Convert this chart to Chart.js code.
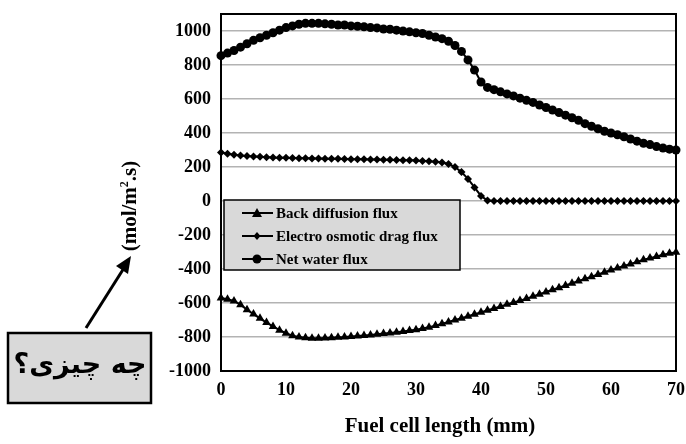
<!DOCTYPE html>
<html>
<head>
<meta charset="utf-8">
<script src="https://cdn.jsdelivr.net/npm/chart.js@4/dist/chart.umd.min.js"></script>
<style>
  html, body { margin: 0; padding: 0; background: #fff; }
  #wrap { width: 686px; height: 444px; position: relative; }
</style>
</head>
<body>
<div id="wrap"><canvas id="myChart" width="686" height="444"></canvas></div>
<script>
// fuel cell length (mm)
var lengthMm = [0, 1, 2, 3, 4, 5, 6, 7, 8, 9, 10, 11, 12, 13, 14, 15, 16, 17, 18, 19, 20,
    21, 22, 23, 24, 25, 26, 27, 28, 29, 30, 31, 32, 33, 34, 35, 36, 37, 38, 39, 40,
    41, 42, 43, 44, 45, 46, 47, 48, 49, 50, 51, 52, 53, 54, 55, 56, 57, 58, 59, 60,
    61, 62, 63, 64, 65, 66, 67, 68, 69, 70];

var backDiffusion = [-570, -578, -588, -610, -640, -665, -690, -715, -738, -760, -778,
    -792, -800, -805, -808, -808, -806, -804, -802, -800, -797,
    -794, -791, -788, -784, -780, -776, -772, -767, -762, -757,
    -750, -742, -733, -722, -712, -700, -690, -678, -666, -655,
    -643, -632, -620, -608, -597, -586, -574, -561, -548, -535,
    -522, -510, -497, -484, -471, -458, -445, -432, -419, -406,
    -394, -382, -370, -358, -346, -336, -326, -316, -308, -302];

var osmoticDrag = [285, 278, 272, 268, 264, 262, 260, 258, 256, 255, 254,
    253, 252, 251, 250, 250, 249, 248, 248, 247, 246,
    246, 245, 244, 244, 243, 242, 241, 240, 239, 238,
    236, 234, 231, 226, 218, 200, 170, 130, 80, 30,
    3, 0, 0, 0, 0, 0, 0, 0, 0, 0,
    0, 0, 0, 0, 0, 0, 0, 0, 0, 0,
    0, 0, 0, 0, 0, 0, 0, 0, 0, 0];

var netWater = [855, 870, 885, 905, 925, 945, 960, 975, 990, 1005, 1020,
    1030, 1040, 1045, 1045, 1045, 1042, 1040, 1035, 1035, 1030,
    1028, 1025, 1020, 1018, 1012, 1010, 1005, 1000, 995, 990,
    985, 975, 965, 955, 940, 915, 880, 830, 770, 700,
    668, 655, 642, 630, 618, 605, 592, 580, 565, 550,
    535, 520, 505, 490, 475, 455, 440, 425, 410, 400,
    390, 378, 365, 352, 340, 332, 320, 312, 305, 300];

var seriesNames = ['Back diffusion flux', 'Electro osmotic drag flux', 'Net water flux'];
var yTicks = [-1000, -800, -600, -400, -200, 0, 200, 400, 600, 800, 1000];
var xTitle = 'Fuel cell length (mm)';
var noteText = 'چه چیزی؟';

function toPoints(ys) {
    return ys.map(function (v, i) { return { x: lengthMm[i], y: v }; });
}

var serif = '"Liberation Serif", "Times New Roman", serif';

function marker(ctx, style, x, y) {
    ctx.fillStyle = '#000';
    ctx.beginPath();
    if (style === 'triangle') {
        ctx.moveTo(x, y - 5);
        ctx.lineTo(x + 5, y + 4);
        ctx.lineTo(x - 5, y + 4);
    } else if (style === 'rectRot') {
        ctx.moveTo(x, y - 4);
        ctx.lineTo(x + 3.5, y);
        ctx.lineTo(x, y + 4);
        ctx.lineTo(x - 3.5, y);
    } else {
        ctx.arc(x, y, 4.5, 0, Math.PI * 2);
    }
    ctx.closePath();
    ctx.fill();
}

var extras = {
    id: 'extras',
    afterDraw: function (chart) {
        var ctx = chart.ctx;
        var a = chart.chartArea;
        ctx.save();

        // frame top and right
        ctx.strokeStyle = '#000';
        ctx.lineWidth = 2;
        ctx.beginPath();
        ctx.moveTo(a.left, a.top);
        ctx.lineTo(a.right, a.top);
        ctx.lineTo(a.right, a.bottom);
        ctx.stroke();

        // legend box
        var lx = a.left + 3, ly = 200, lw = 236, lh = 70;
        ctx.fillStyle = '#d9d9d9';
        ctx.fillRect(lx, ly, lw, lh);
        ctx.lineWidth = 1.5;
        ctx.strokeStyle = '#000';
        ctx.strokeRect(lx, ly, lw, lh);
        chart.data.datasets.forEach(function (ds, i) {
            var ry = ly + 13 + i * 23;
            ctx.lineWidth = 2;
            ctx.beginPath();
            ctx.moveTo(lx + 18, ry);
            ctx.lineTo(lx + 49, ry);
            ctx.stroke();
            marker(ctx, ds.pointStyle, lx + 33, ry);
            ctx.fillStyle = '#000';
            ctx.font = 'bold 15px ' + serif;
            ctx.textBaseline = 'middle';
            ctx.textAlign = 'left';
            ctx.fillText(ds.label, lx + 52, ry + 1);
        });

        // axis titles
        ctx.fillStyle = '#000';
        ctx.font = 'bold 21px ' + serif;
        ctx.textAlign = 'center';
        ctx.textBaseline = 'middle';
        ctx.fillText(xTitle, 440, 427);

        ctx.save();
        ctx.translate(131, 206);
        ctx.rotate(-Math.PI / 2);
        ctx.textAlign = 'left';
        var p1 = '(mol/m', p2 = '2', p3 = '.s)';
        var w1 = ctx.measureText(p1).width;
        ctx.font = 'bold 12px ' + serif;
        var w2 = ctx.measureText(p2).width;
        ctx.font = 'bold 21px ' + serif;
        var w3 = ctx.measureText(p3).width;
        var sx = -(w1 + w2 + w3) / 2;
        ctx.fillText(p1, sx, 0);
        ctx.font = 'bold 12px ' + serif;
        ctx.fillText(p2, sx + w1, -6);
        ctx.font = 'bold 21px ' + serif;
        ctx.fillText(p3, sx + w1 + w2, 0);
        ctx.restore();

        // note box with arrow
        ctx.fillStyle = '#d9d9d9';
        ctx.fillRect(8, 333, 143, 70);
        ctx.lineWidth = 2.5;
        ctx.strokeStyle = '#000';
        ctx.strokeRect(8, 333, 143, 70);
        ctx.fillStyle = '#000';
        ctx.font = 'bold 27px "DejaVu Sans", sans-serif';
        ctx.textAlign = 'center';
        ctx.textBaseline = 'middle';
        ctx.fillText(noteText, 80, 366);

        ctx.lineWidth = 3;
        ctx.beginPath();
        ctx.moveTo(86, 328);
        ctx.lineTo(124, 268);
        ctx.stroke();
        ctx.beginPath();
        ctx.moveTo(131, 256);
        ctx.lineTo(128, 274);
        ctx.lineTo(116, 266);
        ctx.closePath();
        ctx.fill();

        ctx.restore();
    }
};

function lineSet(label, ys, style, radius) {
    return {
        label: label,
        data: toPoints(ys),
        borderColor: '#000',
        backgroundColor: '#000',
        borderWidth: 2,
        pointStyle: style,
        pointRadius: radius,
        pointBorderWidth: 0,
        pointBackgroundColor: '#000',
        tension: 0,
        clip: false
    };
}

var ctx = document.getElementById('myChart').getContext('2d');
var chart = new Chart(ctx, {
    type: 'line',
    data: {
        datasets: [
            lineSet(seriesNames[0], backDiffusion, 'triangle', 5),
            lineSet(seriesNames[1], osmoticDrag, 'rectRot', 4),
            lineSet(seriesNames[2], netWater, 'circle', 4.5)
        ]
    },
    options: {
        responsive: false,
        animation: false,
        layout: { padding: { top: 14, right: 10, left: 0, bottom: 0 } },
        plugins: {
            legend: { display: false },
            tooltip: { enabled: false }
        },
        scales: {
            x: {
                type: 'linear',
                min: 0,
                max: 70,
                afterFit: function (s) {
                    s.height = 73;
                    s.paddingLeft = 0;
                    s.paddingRight = 0;
                },
                grid: { display: false, drawTicks: false },
                border: { color: '#000', width: 2 },
                ticks: {
                    stepSize: 10,
                    padding: 9,
                    color: '#000',
                    font: { family: serif, size: 18, weight: 'bold' }
                }
            },
            y: {
                min: -1000,
                max: 1100,
                afterFit: function (s) {
                    s.width = 221;
                    s.paddingTop = 0;
                    s.paddingBottom = 0;
                },
                afterBuildTicks: function (s) {
                    s.ticks = yTicks.map(function (v) { return { value: v }; });
                },
                grid: { color: '#b3b3b3', lineWidth: 1.5, drawTicks: false },
                border: { color: '#000', width: 2 },
                ticks: {
                    padding: 10,
                    color: '#000',
                    font: { family: serif, size: 18, weight: 'bold' },
                    callback: function (v) { return String(v); }
                }
            }
        }
    },
    plugins: [extras]
});
</script>
</body>
</html>
